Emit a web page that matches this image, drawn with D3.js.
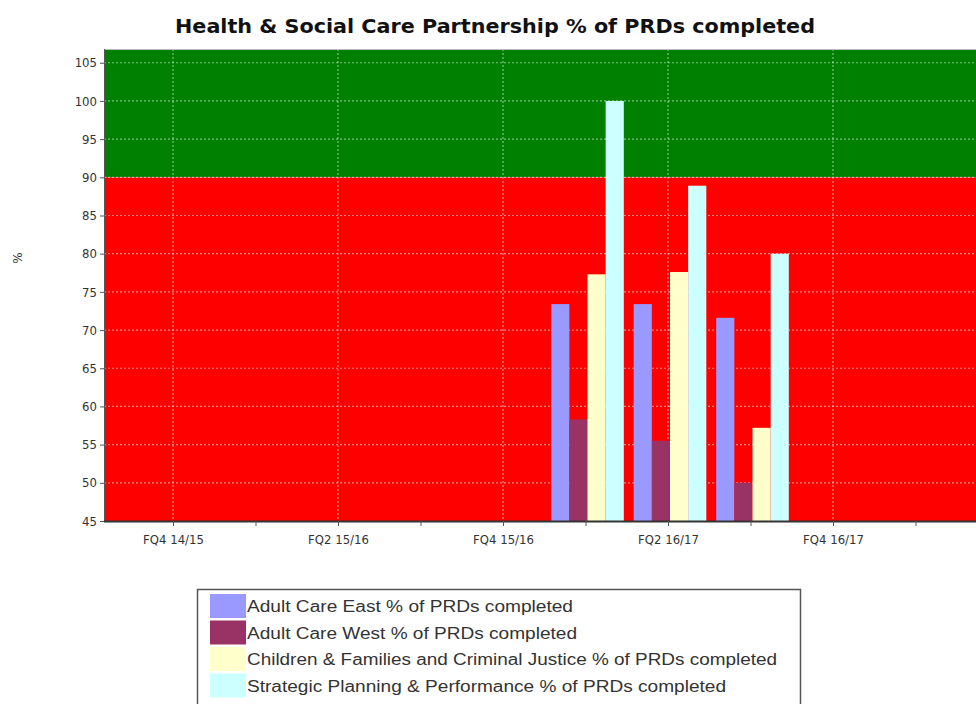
<!DOCTYPE html>
<html>
<head>
<meta charset="utf-8">
<script src="https://cdn.jsdelivr.net/npm/d3@7"></script>
<style>
  html, body { margin: 0; padding: 0; background: #ffffff; }
  svg { display: block; }
</style>
</head>
<body>
<svg id="chart" width="976" height="704"></svg>
<script>
// ---------- data ----------
const quarters = ["FQ4 14/15","FQ1 15/16","FQ2 15/16","FQ3 15/16","FQ4 15/16","FQ1 16/17","FQ2 16/17","FQ3 16/17","FQ4 16/17","FQ1 17/18"];
const majorTickLabels = ["FQ4 14/15","FQ2 15/16","FQ4 15/16","FQ2 16/17","FQ4 16/17"];
const dataQuarters = ["FQ1 16/17","FQ2 16/17","FQ3 16/17"];
const seriesNames = [
  "Adult Care East % of PRDs completed",
  "Adult Care West % of PRDs completed",
  "Children & Families and Criminal Justice % of PRDs completed",
  "Strategic Planning & Performance % of PRDs completed"
];
const adultCareEast = [73.4, 73.4, 71.6];
const adultCareWest = [58.3, 55.5, 50.0];
const childrenFamilies = [77.3, 77.6, 57.2];
const strategicPlanning = [100.0, 88.9, 80.0];
const seriesColors = ["#9999FF", "#993366", "#FFFFCC", "#CCFFFF"];
const yTicks = [45, 50, 55, 60, 65, 70, 75, 80, 85, 90, 95, 100, 105];
const targetValue = 90;

const seriesValues = [adultCareEast, adultCareWest, childrenFamilies, strategicPlanning];

// ---------- layout ----------
const svg = d3.select("#chart");
const plotLeft = 104, plotRight = 976, plotTop = 49, plotBottom = 521;

const y = d3.scaleLinear().domain([45, 106.8]).range([plotBottom, plotTop]);
const x = d3.scalePoint().domain(quarters).range([173, 915.5]);
const step = x.step();
const inner = d3.scaleBand().domain(d3.range(seriesNames.length)).range([-step * 0.44, step * 0.44]).padding(0);

// clip
svg.append("defs").append("clipPath").attr("id", "plotclip")
  .append("rect").attr("x", plotLeft).attr("y", plotTop)
  .attr("width", plotRight - plotLeft).attr("height", plotBottom - plotTop);

const plot = svg.append("g").attr("clip-path", "url(#plotclip)");

// background bands
plot.append("rect")
  .attr("x", plotLeft).attr("width", plotRight - plotLeft)
  .attr("y", y(106.8)).attr("height", y(targetValue) - y(106.8))
  .attr("fill", "#008000");
plot.append("rect")
  .attr("x", plotLeft).attr("width", plotRight - plotLeft)
  .attr("y", y(targetValue)).attr("height", y(45) - y(targetValue))
  .attr("fill", "#FF0000");

// gridlines
plot.append("g").selectAll("line").data(yTicks.filter(d => d > 45)).join("line")
  .attr("x1", plotLeft).attr("x2", plotRight)
  .attr("y1", d => y(d)).attr("y2", d => y(d))
  .attr("stroke", "#ffffff").attr("stroke-opacity", 0.5)
  .attr("stroke-width", 1.2).attr("stroke-dasharray", "2,2");
plot.append("g").selectAll("line").data(majorTickLabels).join("line")
  .attr("x1", d => x(d)).attr("x2", d => x(d))
  .attr("y1", plotTop).attr("y2", plotBottom)
  .attr("stroke", "#ffffff").attr("stroke-opacity", 0.5)
  .attr("stroke-width", 1.2).attr("stroke-dasharray", "2,2");

// bars
const barData = [];
dataQuarters.forEach((q, qi) => {
  seriesValues.forEach((vals, si) => {
    barData.push({ q, si, v: vals[qi] });
  });
});
plot.append("g").selectAll("rect").data(barData).join("rect")
  .attr("x", d => x(d.q) + 2 + inner(d.si))
  .attr("width", inner.bandwidth())
  .attr("y", d => y(d.v))
  .attr("height", d => y(45) - y(d.v))
  .attr("fill", d => seriesColors[d.si]);

// top border
svg.append("line").attr("x1", plotLeft).attr("x2", plotRight)
  .attr("y1", plotTop + 0.5).attr("y2", plotTop + 0.5)
  .attr("stroke", "#bbbbbb").attr("stroke-width", 1);

// y axis
const yAxis = d3.axisLeft(y).tickValues(yTicks).tickSize(4).tickPadding(3);
const gy = svg.append("g").attr("transform", `translate(${plotLeft},0)`).call(yAxis);
gy.select(".domain").attr("stroke", "#555555").attr("d", `M0.5,${plotTop}V${plotBottom}`);
gy.selectAll(".tick line").attr("stroke", "#555555");
gy.selectAll(".tick text").attr("fill", "#333333")
  .style("font-family", "'DejaVu Sans Condensed', 'DejaVu Sans', sans-serif").style("font-size", "13px");

// x axis
const xAxis = d3.axisBottom(x).tickValues(quarters).tickSize(5).tickPadding(9)
  .tickFormat(d => majorTickLabels.includes(d) ? d : "");
const gx = svg.append("g").attr("transform", `translate(0,${plotBottom})`).call(xAxis);
gx.select(".domain").attr("stroke", "#333333").attr("stroke-width", 2)
  .attr("d", `M${plotLeft},0.5H${plotRight}`);
gx.selectAll(".tick line").attr("stroke", "#555555");
gx.selectAll(".tick text").attr("fill", "#333333")
  .style("font-family", "'DejaVu Sans Condensed', 'DejaVu Sans', sans-serif").style("font-size", "13px");

// title
svg.append("text").attr("x", 495).attr("y", 33).attr("text-anchor", "middle")
  .attr("fill", "#111111")
  .attr("textLength", 640).attr("lengthAdjust", "spacingAndGlyphs")
  .style("font-family", "'DejaVu Sans', sans-serif").style("font-weight", "bold").style("font-size", "19px")
  .text("Health & Social Care Partnership % of PRDs completed");

// y label
svg.append("text").attr("transform", "translate(22,258) rotate(-90)")
  .attr("text-anchor", "middle").attr("fill", "#333333")
  .style("font-family", "'DejaVu Sans', sans-serif").style("font-size", "12px")
  .text("%");

// legend
const legendWidths = [326, 330, 530, 479];
const lg = svg.append("g");
lg.append("rect").attr("x", 197.5).attr("y", 589.5).attr("width", 603).attr("height", 125)
  .attr("fill", "#ffffff").attr("stroke", "#555555").attr("stroke-width", 1.5);
const rowH = 26.5;
const items = lg.selectAll("g.item").data(seriesNames).join("g").attr("class", "item")
  .attr("transform", (d, i) => `translate(210,${594 + i * rowH})`);
items.append("rect").attr("width", 36).attr("height", 24)
  .attr("fill", (d, i) => seriesColors[i]);
items.append("text").attr("x", 37).attr("y", 18)
  .attr("fill", "#333333")
  .attr("textLength", (d, i) => legendWidths[i]).attr("lengthAdjust", "spacingAndGlyphs")
  .style("font-family", "'Liberation Sans', sans-serif").style("font-size", "16px")
  .text(d => d);
</script>
</body>
</html>
